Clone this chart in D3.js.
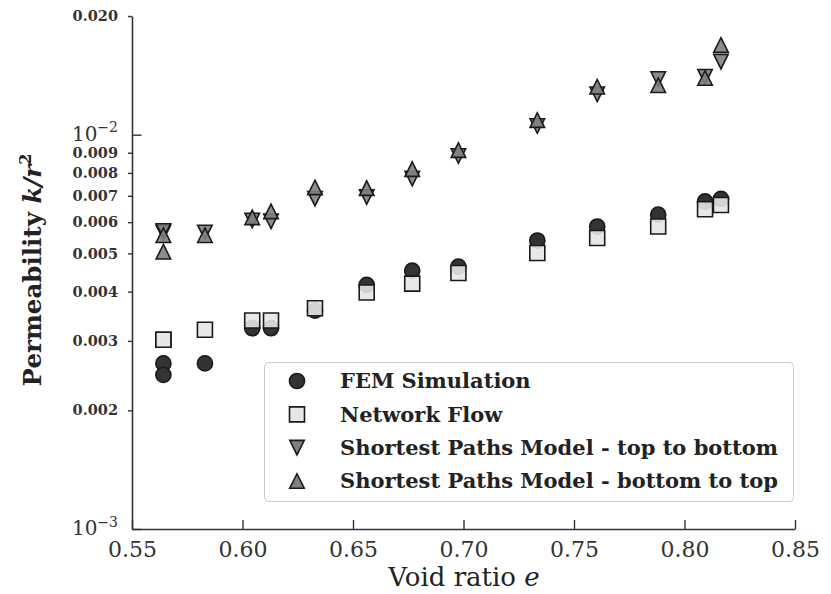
<!DOCTYPE html>
<html>
<head>
<meta charset="utf-8">
<script src="https://cdn.jsdelivr.net/npm/d3@7"></script>
<style>
  html, body { margin: 0; padding: 0; background: #ffffff; }
  svg { display: block; }
</style>
</head>
<body>
<svg id="chart" width="831" height="594"></svg>
<script>
// ---- data ----
const voidRatio = [0.5642, 0.5642, 0.5830, 0.6044, 0.6129, 0.6328, 0.6562, 0.6768, 0.6977, 0.7334, 0.7605, 0.7881, 0.8093, 0.8165];
const femSimulation = [0.00263, 0.00246, 0.00263, 0.00323, 0.00323, 0.00358, 0.00416, 0.00452, 0.00463, 0.00539, 0.00585, 0.00627, 0.00677, 0.00687];
const networkFlow = [0.00302, 0.00302, 0.00320, 0.00338, 0.00338, 0.00363, 0.00398, 0.00419, 0.00446, 0.00501, 0.00547, 0.00585, 0.00647, 0.00663];
const spmTopToBottom = [0.00565, 0.00570, 0.00565, 0.00606, 0.00603, 0.00688, 0.00695, 0.00774, 0.00883, 0.01052, 0.01266, 0.01384, 0.01403, 0.01532];
const spmBottomToTop = [0.00556, 0.00505, 0.00556, 0.00617, 0.00639, 0.00735, 0.00732, 0.00818, 0.00914, 0.01089, 0.01323, 0.01335, 0.01393, 0.01689];

const seriesNames = ["FEM Simulation", "Network Flow", "Shortest Paths Model - top to bottom", "Shortest Paths Model - bottom to top"];
const xTicks = [0.55, 0.60, 0.65, 0.70, 0.75, 0.80, 0.85];
const yMinorTicks = [0.002, 0.003, 0.004, 0.005, 0.006, 0.007, 0.008, 0.009, 0.020];
const yMajorTicks = [0.001, 0.01];

// ---- layout ----
const svg = d3.select("#chart");
const x = d3.scaleLinear().domain([0.55, 0.85]).range([132, 795]);
const y = d3.scaleLog().domain([0.001, 0.02]).range([529, 16]);

const SERIF = "'DejaVu Serif', 'Liberation Serif', serif";
const axisColor = "#333333";

// custom marker shapes (matplotlib-like triangles centred on their bounding box)
const triUp = { draw(ctx, size) { const s = Math.sqrt(size) / 2; ctx.moveTo(0, -s); ctx.lineTo(s, s); ctx.lineTo(-s, s); ctx.closePath(); } };
const triDown = { draw(ctx, size) { const s = Math.sqrt(size) / 2; ctx.moveTo(0, s); ctx.lineTo(s, -s); ctx.lineTo(-s, -s); ctx.closePath(); } };

const series = [
  { name: seriesNames[0], values: femSimulation, type: d3.symbolCircle, size: 180, fill: "#333333", opacity: 1 },
  { name: seriesNames[1], values: networkFlow, type: d3.symbolSquare, size: 225, fill: "#e6e6e6", opacity: 0.9 },
  { name: seriesNames[2], values: spmTopToBottom, type: triDown, size: 210, fill: "#808080", opacity: 0.9 },
  { name: seriesNames[3], values: spmBottomToTop, type: triUp, size: 210, fill: "#808080", opacity: 0.9 }
];

// ---- axes ----
const xAxis = d3.axisBottom(x).tickValues(xTicks).tickSizeInner(-9).tickSizeOuter(0).tickPadding(12)
  .tickFormat(d3.format(".2f"));
const gx = svg.append("g").attr("transform", "translate(0,529)").call(xAxis);
gx.selectAll("text").attr("font-family", SERIF).attr("font-size", 22).attr("fill", axisColor);

const yAxisMinor = d3.axisLeft(y).tickValues(yMinorTicks).tickSizeInner(4).tickSizeOuter(0).tickPadding(10)
  .tickFormat(d3.format(".3f"));
const gy = svg.append("g").attr("transform", "translate(132,0)").call(yAxisMinor);
gy.selectAll("text").attr("font-family", SERIF).attr("font-weight", "bold").attr("font-size", 14.5).attr("fill", axisColor);

const yAxisMajor = d3.axisLeft(y).tickValues(yMajorTicks).tickSizeInner(-9.5).tickSizeOuter(0).tickPadding(14)
  .tickFormat(d => String(Math.round(Math.log10(d))));
const gy2 = svg.append("g").attr("transform", "translate(132,0)").call(yAxisMajor);
gy2.select(".domain").remove();
gy2.selectAll("text").each(function(d) {
  const t = d3.select(this);
  const exp = Math.round(Math.log10(d));
  t.text(null).attr("font-family", SERIF).attr("font-size", 20).attr("fill", axisColor).attr("dy", "0.28em");
  t.append("tspan").text("10");
  t.append("tspan").attr("font-size", 14).attr("dy", "-0.6em").text("\u2212" + Math.abs(exp));
});

svg.selectAll(".domain").attr("stroke", axisColor).attr("stroke-width", 1.6);
svg.selectAll(".tick line").attr("stroke", axisColor).attr("stroke-width", 1.4);

// ---- axis titles ----
const xt = svg.append("text").attr("x", 464).attr("y", 586).attr("text-anchor", "middle")
  .attr("font-family", SERIF).attr("font-size", 26).attr("fill", "#222");
xt.append("tspan").text("Void ratio ");
xt.append("tspan").attr("font-style", "italic").text("e");

const yt = svg.append("text").attr("transform", "translate(41,270) rotate(-90)").attr("text-anchor", "middle")
  .attr("font-family", SERIF).attr("font-size", 24.5).attr("font-weight", "bold").attr("fill", "#222");
yt.append("tspan").text("Permeability ");
yt.append("tspan").attr("font-style", "italic").text("k/r");
yt.append("tspan").attr("font-size", 16).attr("dy", "-0.6em").text("2");

// ---- data marks ----
const sym = d3.symbol();
series.forEach(s => {
  svg.append("g").selectAll("path")
    .data(s.values.map((v, i) => ({ e: voidRatio[i], k: v })))
    .join("path")
    .attr("transform", d => `translate(${x(d.e)},${y(d.k)})`)
    .attr("d", sym.type(s.type).size(s.size)())
    .attr("fill", s.fill)
    .attr("fill-opacity", s.opacity)
    .attr("stroke", "#1a1a1a")
    .attr("stroke-width", 1.6);
});

// ---- legend ----
const lg = svg.append("g");
lg.append("rect").attr("x", 264.5).attr("y", 362.5).attr("width", 529).attr("height", 139).attr("rx", 4)
  .attr("fill", "#ffffff").attr("fill-opacity", 0.85).attr("stroke", "#cccccc").attr("stroke-width", 1);
const rowY = d3.scalePoint().domain(seriesNames).range([381, 481]);
series.forEach(s => {
  const cy = rowY(s.name);
  lg.append("path").attr("transform", `translate(297,${cy})`)
    .attr("d", sym.type(s.type).size(s.size)())
    .attr("fill", s.fill).attr("stroke", "#1a1a1a").attr("stroke-width", 1.6);
  lg.append("text").attr("x", 340).attr("y", cy).attr("dy", "0.35em")
    .attr("font-family", SERIF).attr("font-weight", "bold").attr("font-size", 21).attr("fill", "#222")
    .text(s.name);
});
</script>
</body>
</html>
